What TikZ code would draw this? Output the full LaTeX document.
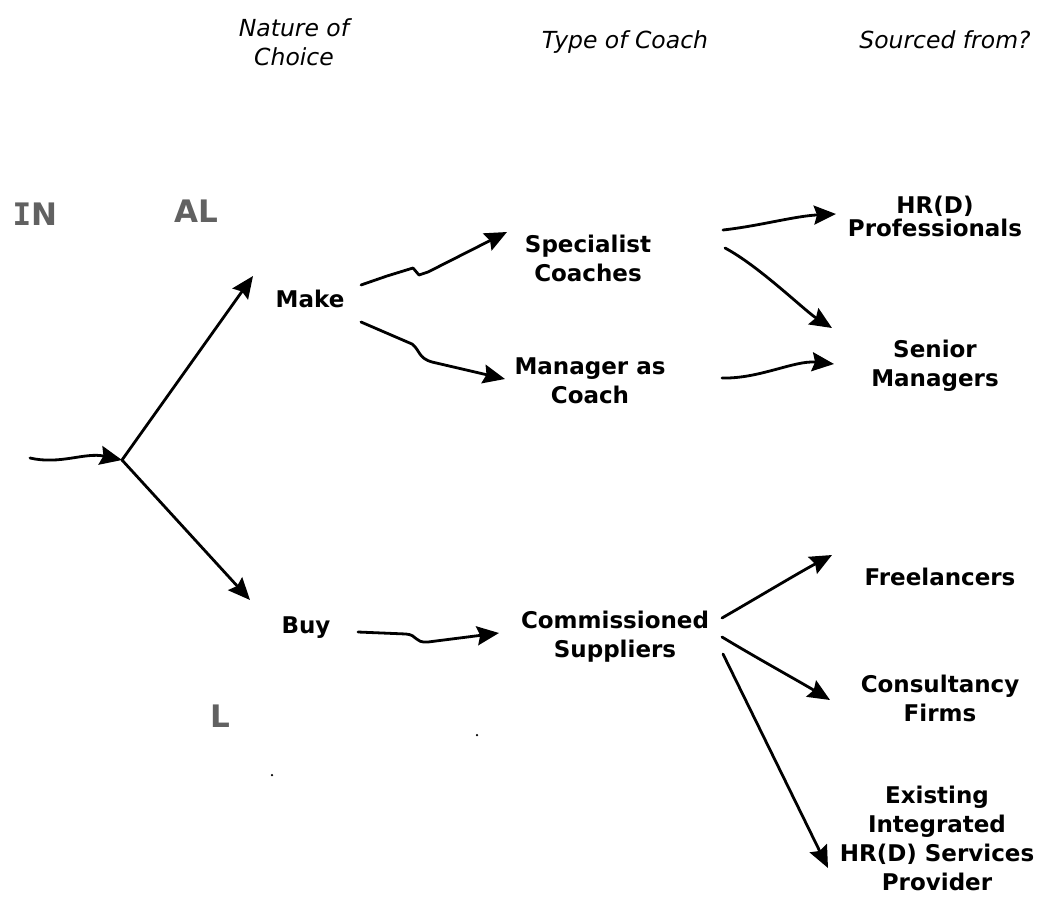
\documentclass[tikz,border=0pt]{standalone}
\usepackage{fontspec}
\setmainfont{DejaVu Sans}
\newfontfamily\ghostmono{DejaVu Sans Mono}
\usetikzlibrary{arrows.meta,calc}
\begin{document}
\begin{tikzpicture}[x=1pt,y=-1pt,
  lbl/.style={font=\fontsize{23}{29}\selectfont\bfseries, align=center, inner sep=0pt},
  hdr/.style={font=\fontsize{23.5}{29}\selectfont\itshape, align=center, inner sep=0pt},
  ghost/.style={font=\fontsize{31}{32}\selectfont\bfseries, text=black!62, inner sep=0pt},
  arr/.style={line width=2.8pt, -{Stealth[length=22pt,width=19pt,inset=3pt]}, line cap=round, line join=round},
  speck/.style={fill=black, inner sep=0pt, minimum size=2.5pt, circle}]
\useasboundingbox (0,0) rectangle (1047,916);

% headers
\node[hdr] (h1) at (294,42) {Nature of\\Choice};
\node[hdr] (h2) at (625,42) {Type of Coach};
\node[hdr] (h3) at (945,40) {Sourced from?};

% faded letters
\node[ghost] (in) at (35,214) {{\ghostmono I}N};
\node[ghost] (al) at (196,211) {AL};
\node[ghost] (l) at (220,716) {L};
\node[speck] (s1) at (477,735) {};
\node[speck] (s2) at (272,775) {};

% labels
\node[lbl] (make) at (310,299) {Make};
\node[lbl] (buy) at (306,628) {Buy};
\node[lbl] (spec) at (588,258) {Specialist\\Coaches};
\node[lbl] (mgr) at (590,381) {Manager as\\Coach};
\node[lbl] (comm) at (615,637) {Commissioned\\Suppliers};
\node[lbl, font=\fontsize{23}{23}\selectfont\bfseries] (hrd) at (935,216) {HR(D)\\Professionals};
\node[lbl] (sen) at (935,366) {Senior\\Managers};
\node[lbl] (free) at (940,577) {Freelancers};
\node[lbl] (cons) at (940,698) {Consultancy\\Firms};
\node[lbl] (exi) at (937,838) {Existing\\Integrated\\HR(D) Services\\Provider};

\coordinate (start) at (30,458);
\coordinate (fork) at (122,460);

% connectors
\draw[arr] (start) .. controls (60,465) and (85,452) .. (fork);
\draw[arr] (fork) -- ($(make)+(-57,-23)$);
\draw[arr] (fork) -- ($(buy)+(-56,-28)$);

\draw[arr] ($(make)+(51,-14)$) -- ($(make)+(77,-23)$) -- ($(make)+(103,-31)$)
  -- ($(make)+(109,-24)$) -- ($(make)+(118,-27)$) -- ($(spec)+(-81,-26)$);
\draw[arr] ($(make)+(51,23)$) -- ($(make)+(102,45)$)
  .. controls ($(make)+(110,51)$) and ($(make)+(108,59)$) .. ($(make)+(122,63)$)
  -- ($(mgr)+(-85,-2)$);

\draw[arr] ($(spec)+(135,-28)$) .. controls ($(spec)+(171,-32)$) and ($(hrd)+(-140,0)$) .. ($(hrd)+(-99,-2)$);
\draw[arr] ($(spec)+(137,-10)$) .. controls ($(spec)+(171,8)$) and ($(sen)+(-130,-55)$) .. ($(sen)+(-103,-38)$);
\draw[arr] ($(mgr)+(132,-3)$) .. controls ($(mgr)+(169,-2)$) and ($(sen)+(-140,-6)$) .. ($(sen)+(-101,-2)$);

\draw[arr] ($(buy)+(52,4)$) -- ($(buy)+(100,6)$)
  .. controls ($(buy)+(112,7)$) and ($(buy)+(108,15)$) .. ($(buy)+(122,14)$)
  -- ($(comm)+(-116,-4)$);

\draw[arr] ($(comm)+(107,-19)$) .. controls ($(comm)+(140,-38)$) and ($(free)+(-140,-5)$) .. ($(free)+(-108,-22)$);
\draw[arr] ($(comm)+(107,0)$) .. controls ($(comm)+(140,20)$) and ($(cons)+(-138,-15)$) .. ($(cons)+(-110,2)$);
\draw[arr] ($(comm)+(108,17)$) -- ($(exi)+(-109,30)$);
\end{tikzpicture}
\end{document}
